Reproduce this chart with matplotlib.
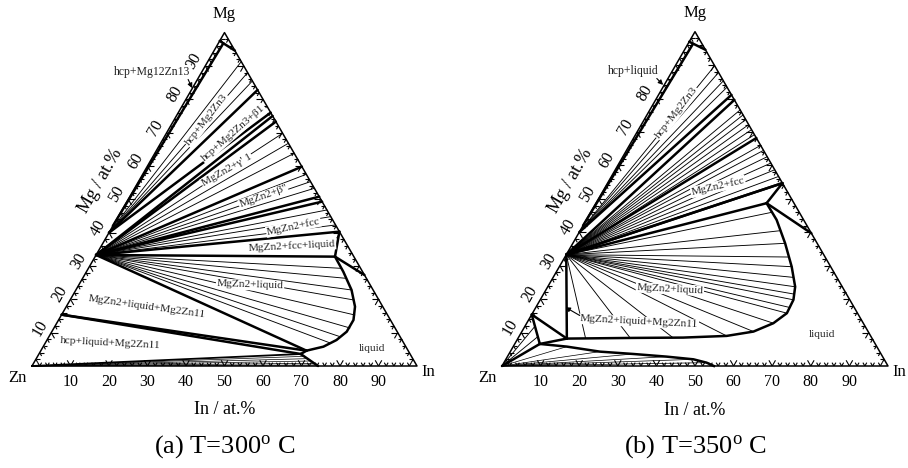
#!/usr/bin/env python3
"""Isothermal sections of the Mg-Zn-In system at 300 and 350 C."""

import matplotlib

matplotlib.use("Agg")

import matplotlib.pyplot as plt
import numpy as np
from matplotlib.collections import LineCollection

plt.rcParams["font.family"] = ["Liberation Serif", "DejaVu Serif"]
plt.rcParams["mathtext.default"] = "regular"

H = np.sqrt(3) / 2

# all compositions below are (In at.%, Mg at.%), Zn is the balance
MGZN2 = (0.0, 33.3)
MG2ZN3 = (0.0, 40.0)
MG2ZN11 = (0.0, 15.4)
ZN = (0.0, 0.0)

BOTTOM_TICKS = [10, 20, 30, 40, 50, 60, 70, 80, 90]
LEFT_TICKS_A = [10, 20, 30, 40, 50, 60, 70, 80, 90]
LEFT_TICKS_B = [10, 20, 30, 40, 50, 60, 70, 80]

# ---- (a) 300 C ----
A_HCP_EDGE = [(0.0, 97.5), (5.4, 94.6)]
A_HCP_SOLVUS = [(1.3, 96.8), (0.0, 42.0)]
A_MG2ZN3_THIN = [91.3, 88.0, 85.5]          # Mg at.% of tie-line end on Mg-In side
A_MG2ZN3_THICK = [82.8, 76.0]
A_MGZN2_THICK = [75.0, 73.3, 59.8, 50.8, 49.3]
A_MGZN2_THIN = [69.8, 66.8, 63.8, 57.5, 55.3, 53.3, 46.8, 44.8, 42.3]
A_FCC = (59.7, 40.3)
A_LIQ_EDGE = (72.7, 27.3)
A_LIQUIDUS_IN = [62.3, 66.7, 71.6, 75.0, 76.6, 76.6, 75.2, 72.8, 69.0]
A_LIQUIDUS_MG = [32.8, 28.3, 22.8, 17.8, 13.8, 10.3, 7.8, 5.8, 4.6]
A_LIQ_TIES = [(65.6, 29.3), (68.4, 26.3), (71.6, 22.8), (73.7, 19.8),
              (76.2, 15.3), (76.9, 11.4), (75.6, 8.8), (74.0, 6.9)]
A_L2 = (68.0, 3.6)
A_LIQ_BOTTOM = (74.3, 0.0)
A_ZN_TIES = [(69.2, 2.9), (70.4, 2.2), (71.6, 1.5), (72.8, 0.8), (73.8, 0.3)]

# ---- (b) 350 C ----
B_HCP_EDGE = [(0.0, 97.0), (5.4, 94.6)]
B_HCP_SOLVUS = [(1.3, 96.4), (0.0, 42.0)]
B_MG2ZN3_THIN = [89.8, 87.8, 85.3, 83.4]
B_MG2ZN3_THICK = [81.1]
B_MGZN2_THICK = [79.6, 68.2, 54.7]
B_MGZN2_THIN = [76.6, 75.1, 73.7, 72.2, 70.7, 69.2, 66.0, 64.5, 62.6, 60.7, 58.7, 56.7]
B_FCC = (45.3, 54.7)
B_LIQ_EDGE = (60.3, 39.7)
B_LIQUIDUS_IN = [44.2, 49.3, 55.0, 60.2, 64.1, 65.6, 65.9, 63.9, 60.0, 53.7, 42.7, 29.8, 12.7]
B_LIQUIDUS_MG = [48.7, 43.7, 36.7, 29.7, 23.7, 19.8, 15.8, 12.8, 10.3, 9.0, 8.5, 8.4, 8.2]
B_LIQ_TIES = [(47.0, 46.0), (52.0, 40.5), (55.0, 36.7), (58.0, 32.6), (60.2, 29.7),
              (62.3, 26.5), (64.1, 23.7), (65.0, 21.5), (65.6, 19.8), (65.8, 17.5),
              (65.9, 15.8), (63.9, 12.8), (60.0, 10.3), (53.7, 9.0), (40.0, 8.5),
              (29.0, 8.4), (17.5, 8.3)]
B_L1 = (6.5, 6.6)
B_LOWER_IN = [6.5, 13.9, 23.2, 32.2, 41.3, 48.6, 52.5, 54.9]
B_LOWER_MG = [6.6, 5.8, 4.3, 3.6, 2.8, 2.0, 1.0, 0.0]
B_ZN_TIES = [(2.6, 11.9), (4.9, 8.8)]

THICK = 1.8
THIN = 0.65
EDGE = 1.1


def tern(in_pct, mg_pct):
    i = np.asarray(in_pct, dtype=float) / 100
    m = np.asarray(mg_pct, dtype=float) / 100
    return i + m / 2, m * H


def seg(ax, a, b, lw):
    x, y = tern([a[0], b[0]], [a[1], b[1]])
    ax.plot(x, y, color="black", lw=lw, solid_capstyle="round", clip_on=False)


def curve(ax, ins, mgs, lw):
    x, y = tern(ins, mgs)
    ax.plot(x, y, color="black", lw=lw, solid_joinstyle="round", clip_on=False)


def label(ax, comp, text, rot=0, size=8.2):
    x, y = tern(comp[0], comp[1])
    ax.text(x, y, text, rotation=rot, rotation_mode="anchor", ha="center", va="center",
            fontsize=size, color="#222222",
            bbox=dict(facecolor="white", edgecolor="none", pad=0.6))


def arrow(ax, start, tip):
    x0, y0 = tern(start[0], start[1])
    x1, y1 = tern(tip[0], tip[1])
    ax.annotate("", xy=(x1, y1), xytext=(x0, y0),
                arrowprops=dict(arrowstyle="-|>", lw=0.8, color="black", mutation_scale=7))


def frame(ax, left_ticks, caption):
    ax.set_xlim(0, 1)
    ax.set_ylim(0, H)
    ax.axis("off")
    ax.plot([0, 1, 0.5, 0], [0, 0, H, 0], color="black", lw=EDGE, clip_on=False)

    segs = []
    for v in range(2, 100, 2):
        ln = 0.017 if v % 10 == 0 else 0.01
        bx, by = tern(v, 0)
        lx, ly = tern(0, v)
        rx, ry = tern(100 - v, v)
        for dx, dy in [(0.5, H), (-0.5, H)]:
            segs.append([(bx, by), (bx + ln * dx, by + ln * dy)])
        for dx, dy in [(1, 0), (0.5, -H)]:
            segs.append([(lx, ly), (lx + ln * dx, ly + ln * dy)])
        for dx, dy in [(-1, 0), (-0.5, -H)]:
            segs.append([(rx, ry), (rx + ln * dx, ry + ln * dy)])
    ax.add_collection(LineCollection(segs, colors="black", linewidths=0.8))

    for v in BOTTOM_TICKS:
        x, _ = tern(v, 0)
        ax.text(x, -0.041, str(v), ha="center", va="center", fontsize=11.5)
    for v in left_ticks:
        x, y = tern(0, v)
        ax.text(x - 0.029, y + 0.013, str(v), ha="center", va="center",
                rotation=60, fontsize=11.5)

    ax.text(0.5, 0.915, "Mg", ha="center", va="center", fontsize=12)
    ax.text(-0.037, -0.031, "Zn", ha="center", va="center", fontsize=12)
    ax.text(1.03, -0.016, "In", ha="center", va="center", fontsize=12)
    ax.text(0.178, 0.48, "Mg / at.%", ha="center", va="center", rotation=60, fontsize=13)
    ax.text(0.5, -0.114, "In / at.%", ha="center", va="center", fontsize=13)
    ax.text(0.5, -0.21, caption, ha="center", va="center", fontsize=19)


def fan(ax, origin, mg_list, lw):
    for m in mg_list:
        seg(ax, origin, (100 - m, m), lw)


def panel_a(ax):
    frame(ax, LEFT_TICKS_A, r"(a) T=300$^{o}$ C")
    seg(ax, A_HCP_EDGE[0], A_HCP_EDGE[1], THICK)
    seg(ax, A_HCP_SOLVUS[0], A_HCP_SOLVUS[1], THICK)
    fan(ax, MG2ZN3, A_MG2ZN3_THIN, THIN)
    fan(ax, MG2ZN3, A_MG2ZN3_THICK, THICK)
    fan(ax, MGZN2, A_MGZN2_THIN, THIN)
    fan(ax, MGZN2, A_MGZN2_THICK, THICK)

    liq_start = (A_LIQUIDUS_IN[0], A_LIQUIDUS_MG[0])
    liq_end = (A_LIQUIDUS_IN[-1], A_LIQUIDUS_MG[-1])
    seg(ax, MGZN2, A_FCC, THICK)
    seg(ax, MGZN2, liq_start, THICK)
    seg(ax, A_FCC, liq_start, THICK)
    seg(ax, liq_start, A_LIQ_EDGE, THICK)
    curve(ax, A_LIQUIDUS_IN, A_LIQUIDUS_MG, THICK)
    for p in A_LIQ_TIES:
        seg(ax, MGZN2, p, THIN)

    seg(ax, MGZN2, liq_end, THICK)
    seg(ax, MG2ZN11, liq_end, THICK)
    seg(ax, MG2ZN11, A_L2, THICK)
    seg(ax, liq_end, A_L2, THICK)
    seg(ax, ZN, A_L2, 1.3)
    seg(ax, A_L2, A_LIQ_BOTTOM, THICK)
    for p in A_ZN_TIES:
        seg(ax, ZN, p, 0.5)

    label(ax, (-12.9, 88.2), "hcp+Mg12Zn13", size=8.5)
    arrow(ax, (-3.1, 86.7), (0.6, 82.6))
    label(ax, (8.5, 73.8), "hcp+Mg2Zn3", rot=52)
    label(ax, (17.4, 69.8), "hcp+Mg2Zn3+β1", rot=41)
    label(ax, (21.2, 58.8), "MgZn2+γ' 1", rot=30)
    label(ax, (34.7, 50.8), "MgZn2+β''", rot=20)
    label(ax, (47.0, 41.8), "MgZn2+fcc", rot=12)
    label(ax, (49.5, 36.0), "MgZn2+fcc+liquid", rot=3)
    label(ax, (44.5, 24.3), "MgZn2+liquid", rot=-2)
    label(ax, (20.9, 17.8), "MgZn2+liquid+Mg2Zn11", rot=-8)
    label(ax, (16.9, 6.8), "hcp+liquid+Mg2Zn11", rot=-3)
    label(ax, (85.6, 5.3), "liquid")


def panel_b(ax):
    frame(ax, LEFT_TICKS_B, r"(b) T=350$^{o}$ C")
    seg(ax, B_HCP_EDGE[0], B_HCP_EDGE[1], THICK)
    seg(ax, B_HCP_SOLVUS[0], B_HCP_SOLVUS[1], THICK)
    fan(ax, MG2ZN3, B_MG2ZN3_THIN, THIN)
    fan(ax, MG2ZN3, B_MG2ZN3_THICK, THICK)
    fan(ax, MGZN2, B_MGZN2_THIN, THIN)
    fan(ax, MGZN2, B_MGZN2_THICK, THICK)

    liq_start = (B_LIQUIDUS_IN[0], B_LIQUIDUS_MG[0])
    liq_end = (B_LIQUIDUS_IN[-1], B_LIQUIDUS_MG[-1])
    seg(ax, MGZN2, B_FCC, THICK)
    seg(ax, MGZN2, liq_start, THICK)
    seg(ax, B_FCC, liq_start, THICK)
    seg(ax, liq_start, B_LIQ_EDGE, THICK)
    curve(ax, B_LIQUIDUS_IN, B_LIQUIDUS_MG, THICK)
    for p in B_LIQ_TIES:
        seg(ax, MGZN2, p, THIN)

    seg(ax, MGZN2, liq_end, THICK)
    seg(ax, MG2ZN11, liq_end, THICK)
    seg(ax, MG2ZN11, B_L1, THICK)
    seg(ax, liq_end, B_L1, THICK)
    seg(ax, ZN, B_L1, THICK)
    curve(ax, B_LOWER_IN, B_LOWER_MG, THICK)
    for i, m in zip(B_LOWER_IN[1:-1], B_LOWER_MG[1:-1]):
        seg(ax, ZN, (i, m), 0.5)
    for p in B_ZN_TIES:
        seg(ax, ZN, p, THIN)

    label(ax, (-10.0, 88.1), "hcp+liquid", size=8.5)
    arrow(ax, (-3.7, 86.6), (0.5, 83.5))
    label(ax, (7.4, 75.7), "hcp+Mg2Zn3", rot=52)
    label(ax, (29.1, 53.7), "MgZn2+fcc", rot=13)
    label(ax, (32.0, 23.0), "MgZn2+liquid", rot=-3)
    label(ax, (28.9, 13.2), "MgZn2+liquid+Mg2Zn11", rot=-3)
    arrow(ax, (13.4, 14.7), (6.8, 18.0))
    label(ax, (78.1, 9.5), "liquid")


def main():
    fig = plt.figure(figsize=(9.08, 4.68), dpi=100)
    ax_a = fig.add_axes([32 / 908, 102 / 468, 385 / 908, 333.4 / 468])
    ax_b = fig.add_axes([502 / 908, 102 / 468, 386 / 908, 334.3 / 468])
    panel_a(ax_a)
    panel_b(ax_b)
    fig.savefig("out.png", dpi=100)


if __name__ == "__main__":
    main()
